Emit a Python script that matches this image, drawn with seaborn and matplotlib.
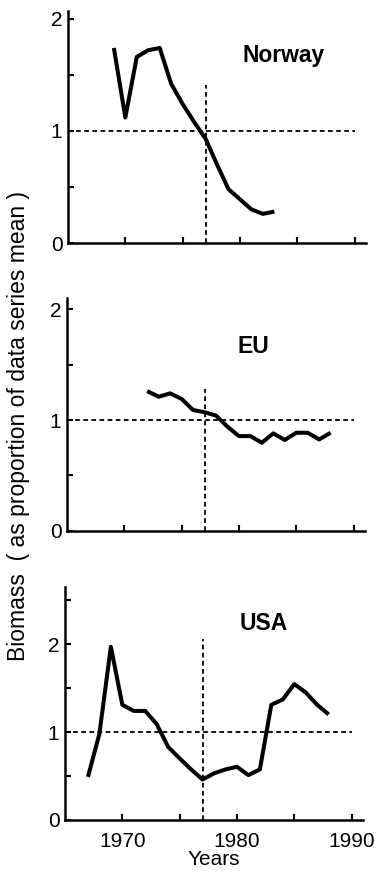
import numpy as np
import pandas as pd
import matplotlib
matplotlib.use("Agg")
import matplotlib.pyplot as plt
import seaborn as sns

# Biomass relative to the mean of each data series
norway_years = [1969, 1970, 1971, 1972, 1973, 1974, 1975, 1976, 1977, 1978, 1979, 1980, 1981, 1982, 1983]
norway_biomass = [1.74, 1.12, 1.66, 1.72, 1.74, 1.42, 1.24, 1.08, 0.93, 0.70, 0.48, 0.39, 0.30, 0.26, 0.28]

eu_years = [1972, 1973, 1974, 1975, 1976, 1977, 1978, 1979, 1980, 1981, 1982, 1983, 1984, 1985, 1986, 1987, 1988]
eu_biomass = [1.26, 1.21, 1.24, 1.19, 1.09, 1.07, 1.04, 0.94, 0.855, 0.855, 0.795, 0.88, 0.82, 0.885, 0.885, 0.825, 0.885]

usa_years = [1967, 1968, 1969, 1970, 1971, 1972, 1973, 1974, 1975, 1976, 1977, 1978, 1979,
             1980, 1981, 1982, 1983, 1984, 1985, 1986, 1987, 1988]
usa_biomass = [0.49, 0.98, 1.97, 1.31, 1.24, 1.24, 1.09, 0.83, 0.70, 0.575, 0.46, 0.53, 0.575,
               0.605, 0.51, 0.575, 1.31, 1.37, 1.545, 1.45, 1.31, 1.20]

regions = ["Norway", "EU", "USA"]
change_year = 1977
year_ticks = [1970, 1975, 1980, 1985, 1990]
year_labels = ["1970", "", "1980", "", "1990"]

sns.set_style("ticks", {"axes.edgecolor": "black", "text.color": "black",
                        "axes.labelcolor": "black", "xtick.color": "black",
                        "ytick.color": "black"})
plt.rcParams["font.family"] = ["Liberation Sans", "DejaVu Sans"]

fig = plt.figure(figsize=(3.76, 8.71), dpi=100)

# (left, bottom, width, height, y-limit, top of the vertical marker, title position)
panels = [
    (0.1809, 0.7210, 0.7926, 0.2664, 2.07, 1.41, (1983.8, 1.67)),
    (0.1782, 0.3904, 0.7926, 0.2675, 2.10, 1.28, (1981.3, 1.66)),
    (0.1729, 0.0586, 0.7926, 0.2675, 2.65, 2.06, (1982.3, 2.23)),
]
series = [
    (norway_years, norway_biomass),
    (eu_years, eu_biomass),
    (usa_years, usa_biomass),
]

for i, (name, (yrs, vals), spec) in enumerate(zip(regions, series, panels)):
    left, bottom, width, height, ytop, vtop, (tx, ty) = spec
    ax = fig.add_axes([left, bottom, width, height])
    df = pd.DataFrame({"Year": yrs, "Biomass": vals})
    sns.lineplot(data=df, x="Year", y="Biomass", ax=ax, color="black",
                 linewidth=2.9, solid_joinstyle="round", solid_capstyle="butt")

    # reference lines: series mean and the 1977 regime shift
    ax.plot([1965, 1990], [1, 1], color="black", lw=1.3, ls=(0, (2.6, 1.9)))
    ax.plot([change_year, change_year], [0, vtop], color="black", lw=1.3, ls=(0, (2.6, 1.9)))

    ax.text(tx, ty, name, ha="center", va="center", fontsize=16.5, fontweight="bold",
            color="black")

    ax.set_xlim(1965, 1991)
    ax.set_ylim(0, ytop)
    yt = np.arange(0, ytop + 1e-9, 0.5)
    ax.set_yticks(yt)
    ax.set_yticklabels([f"{v:g}" if float(v).is_integer() else "" for v in yt])
    ax.set_xticks(year_ticks)
    if i == 2:
        ax.set_xticklabels(year_labels)
        ax.set_xlabel("Years", fontsize=15, labelpad=-1, color="black")
    else:
        ax.set_xticklabels([])
        ax.set_xlabel("")
    ax.set_ylabel("")

    for side in ("top", "right"):
        ax.spines[side].set_visible(False)
    for side in ("left", "bottom"):
        ax.spines[side].set_linewidth(1.8)
        ax.spines[side].set_color("black")
    ax.tick_params(direction="in", length=4.5, width=1.5, labelsize=15, pad=4,
                   color="black", labelcolor="black")
    ax.tick_params(axis="x", pad=9)
    ax.set_facecolor("white")

fig.text(0.05, 0.511, "Biomass  ( as proportion of data series mean )",
         rotation=90, ha="center", va="center", fontsize=16.5, color="black")

fig.savefig("out.png", dpi=100, facecolor="white")
